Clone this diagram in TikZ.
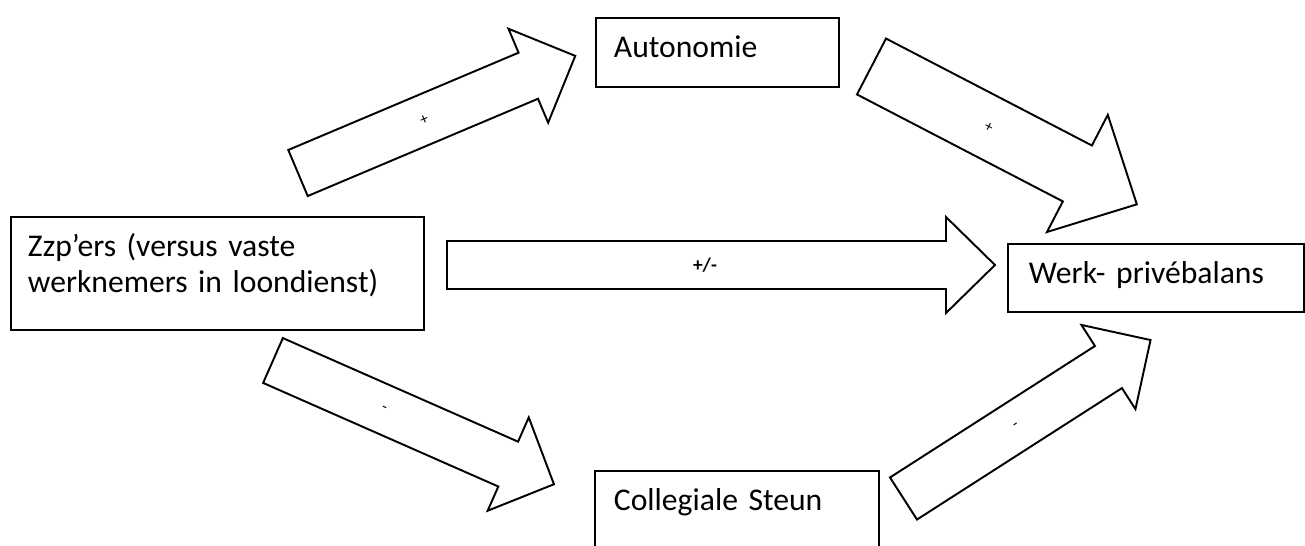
\documentclass[tikz,border=0pt]{standalone}
\usepackage{fontspec}
\setmainfont[WordSpace=0.75]{Carlito}

% block arrow: tail centre, angle, length, half shaft, half head, head length, sign, name, sign position
\newcommand{\blockarrow}[9]{%
  \begin{scope}[shift={#1}, rotate=#2]
    \draw[arrowline] (0,-#4) -- ({#3-#6},-#4) -- ({#3-#6},-#5) -- (#3,0)
      -- ({#3-#6},#5) -- ({#3-#6},#4) -- (0,#4) -- cycle;
    \node[sign, rotate=#2] (#8) at (#9,0) {#7};
  \end{scope}}

\begin{document}
\begin{tikzpicture}[x=0.02cm, y=-0.02cm,
    box/.style={draw, line width=1.1pt, anchor=north west, inner ysep=0pt,
      align=left, font=\fontsize{18}{20.5}\selectfont},
    arrowline/.style={line width=1.1pt, line join=miter, fill=white},
    sign/.style={inner sep=1pt, font=\fontsize{9}{10}\selectfont}]
  \useasboundingbox (0,0) rectangle (1305,545);

  % variabelen
  \node[box, inner xsep=0.34cm, text width=7.58cm, text height=0.8cm, text depth=1.46cm]
    (zzp) at (10,216) {Zzp’ers (versus vaste\\werknemers in loondienst)};
  \node[box, inner xsep=0.36cm, text width=4.14cm, text height=0.8cm, text depth=0.58cm]
    (auto) at (595,17) {Autonomie};
  \node[box, inner xsep=0.38cm, text width=4.92cm, text height=0.8cm, text depth=1.0cm]
    (steun) at (594,470) {Collegiale Steun};
  \node[box, inner xsep=0.42cm, text width=5.08cm, text height=0.8cm, text depth=0.56cm]
    (balans) at (1007,243) {Werk- privébalans};

  % pijlen
  \blockarrow{(298,173)}{22.9}{301}{25}{51}{51}{+}{s1}{137}
  \blockarrow{(871.5,66.5)}{-27.45}{299}{31.5}{66}{67}{+}{s2}{132}
  \blockarrow{(447,265)}{0}{548}{24}{48}{49}{\bfseries\fontsize{11}{12}\selectfont +/-}{s3}{258}
  \blockarrow{(273,360.5)}{-23.77}{307}{24.5}{51}{50}{-}{s4}{121}
  \blockarrow{(903.5,498.5)}{32.68}{293.5}{25}{50}{50}{-}{s5}{134}
\end{tikzpicture}
\end{document}
